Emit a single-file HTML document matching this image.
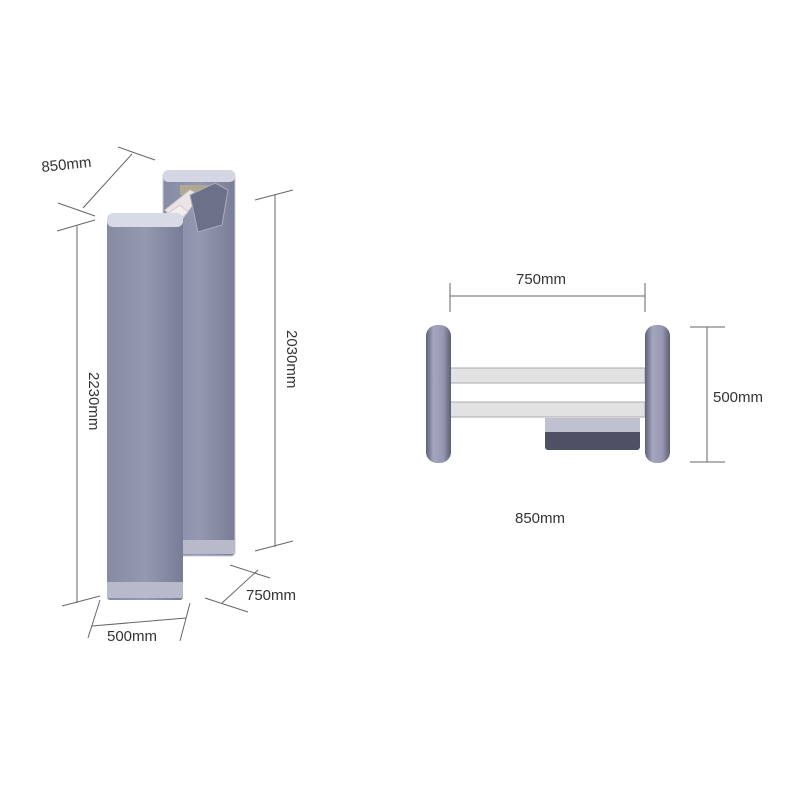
<!DOCTYPE html>
<html><head><style>body{margin:0;background:#fff}svg{display:block}text{font-family:"Liberation Sans",sans-serif;font-size:15px;fill:#333}</style></head>
<body>
<svg width="800" height="800" viewBox="0 0 800 800">
<defs>
<linearGradient id="pg" x1="0" x2="1"><stop offset="0" stop-color="#878aa3"/><stop offset="0.5" stop-color="#9598b1"/><stop offset="1" stop-color="#787c95"/></linearGradient>
<linearGradient id="rp" x1="0" x2="1"><stop offset="0" stop-color="#5c6078"/><stop offset="0.3" stop-color="#a3a6bd"/><stop offset="0.7" stop-color="#9598b0"/><stop offset="1" stop-color="#5a5e74"/></linearGradient>
</defs>
<g stroke="#666" stroke-width="1" fill="none">
<line x1="118" y1="147" x2="155" y2="160"/><line x1="58" y1="203" x2="95" y2="216"/><line x1="83" y1="208" x2="132" y2="154"/>
<line x1="57" y1="231" x2="95" y2="220"/><line x1="77" y1="226" x2="77" y2="603"/><line x1="62" y1="606" x2="100" y2="596"/>
<line x1="255" y1="200" x2="293" y2="190"/><line x1="275" y1="195" x2="275" y2="547"/><line x1="255" y1="551" x2="293" y2="541"/>
<line x1="100" y1="600" x2="88" y2="638"/><line x1="190" y1="603" x2="180" y2="641"/><line x1="92" y1="626" x2="186" y2="618"/>
<line x1="205" y1="598" x2="248" y2="612"/><line x1="230" y1="565" x2="270" y2="578"/><line x1="222" y1="603" x2="258" y2="570"/>
<line x1="450" y1="283" x2="450" y2="312"/><line x1="645" y1="283" x2="645" y2="312"/><line x1="450" y1="296" x2="645" y2="296"/>
<line x1="690" y1="327" x2="725" y2="327"/><line x1="690" y1="462" x2="725" y2="462"/><line x1="707" y1="327" x2="707" y2="462"/>
</g>
<text x="42" y="172" transform="rotate(-6 42 172)">850mm</text>
<text transform="translate(89,372) rotate(90)">2230mm</text>
<text transform="translate(287,330) rotate(90)">2030mm</text>
<text x="107" y="641">500mm</text>
<text x="246" y="600">750mm</text>
<text x="516" y="284">750mm</text>
<text x="713" y="402">500mm</text>
<text x="515" y="523">850mm</text>
<rect x="163" y="172" width="72" height="384" rx="4" fill="url(#pg)" stroke="#c8cad8"/>
<rect x="163" y="170" width="72" height="12" rx="5" fill="#d4d6e4"/>
<rect x="180" y="185" width="30" height="10" fill="#b0a890"/>
<polygon points="165,210 190,190 200,195 178,225" fill="#ece4e4" stroke="#ccc"/>
<polygon points="158,220 180,205 188,212 170,228" fill="#f3eded" stroke="#ccc"/>
<polygon points="190,195 215,183 228,190 222,225 198,232" fill="#6c7088" stroke="#aab"/>
<rect x="107" y="218" width="76" height="382" rx="3" fill="url(#pg)"/>
<rect x="107" y="213" width="76" height="14" rx="6" fill="#d8dae6"/>
<rect x="107" y="582" width="76" height="16" fill="#b8bacb"/>
<rect x="183" y="540" width="52" height="14" fill="#b8bacb"/>
<rect x="450" y="368" width="195" height="15" fill="#e2e2e2" stroke="#aaa"/>
<rect x="450" y="402" width="195" height="15" fill="#e2e2e2" stroke="#aaa"/>
<rect x="545" y="418" width="95" height="32" rx="3" fill="#4e5066"/>
<rect x="545" y="418" width="95" height="14" fill="#bfc1d0"/>
<rect x="426" y="325" width="25" height="138" rx="11" fill="url(#rp)"/>
<rect x="645" y="325" width="25" height="138" rx="11" fill="url(#rp)"/>
</svg>
</body></html>
